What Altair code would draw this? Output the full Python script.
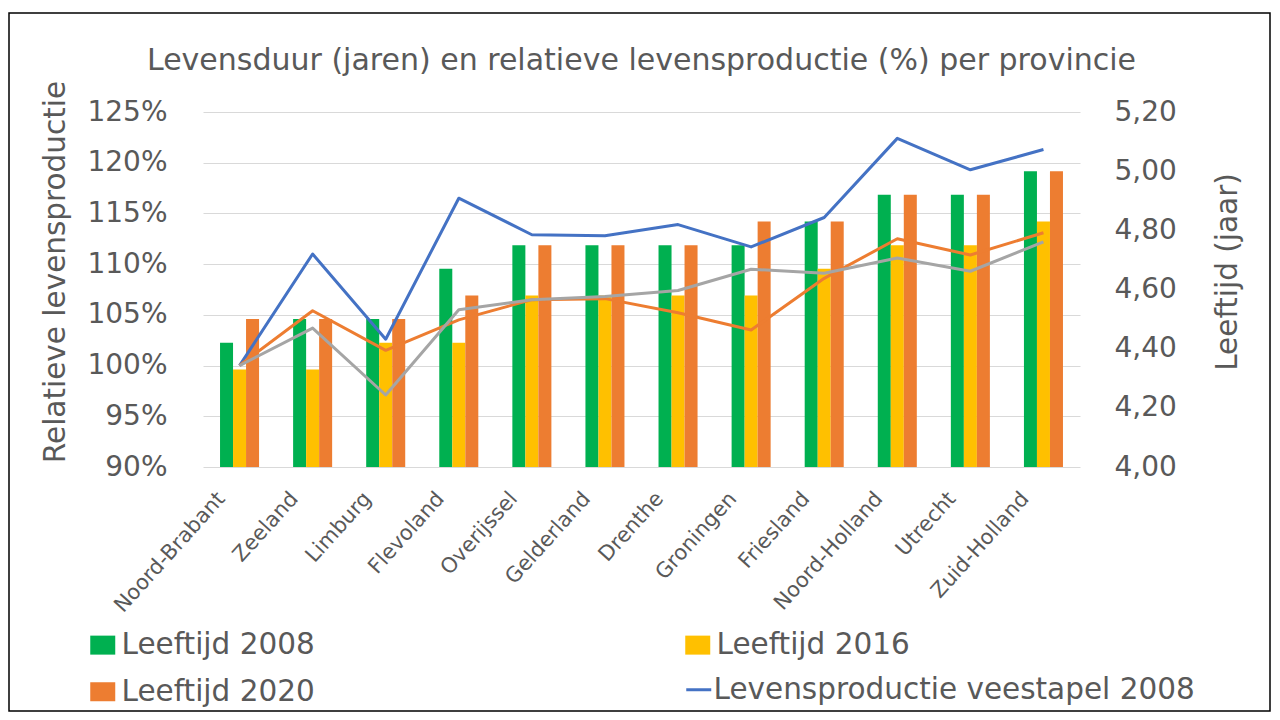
import altair as alt
import pandas as pd

provincies = ["Noord-Brabant", "Zeeland", "Limburg", "Flevoland", "Overijssel", "Gelderland",
              "Drenthe", "Groningen", "Friesland", "Noord-Holland", "Utrecht", "Zuid-Holland"]

leeftijd_series = ["Leeftijd 2008", "Leeftijd 2016", "Leeftijd 2020"]
leeftijd_2008 = [4.42, 4.50, 4.50, 4.67, 4.75, 4.75, 4.75, 4.75, 4.83, 4.92, 4.92, 5.00]
leeftijd_2016 = [4.33, 4.33, 4.42, 4.42, 4.58, 4.58, 4.58, 4.58, 4.67, 4.75, 4.75, 4.83]
leeftijd_2020 = [4.50, 4.50, 4.50, 4.58, 4.75, 4.75, 4.75, 4.83, 4.83, 4.92, 4.92, 5.00]

prod_series = ["Levensproductie veestapel 2008", "Levensproductie veestapel 2016",
               "Levensproductie veestapel 2020"]
prod_2008 = [100.0, 111.0, 102.6, 116.5, 112.9, 112.8, 113.9, 111.7, 114.6, 122.4, 119.3, 121.3]
prod_2016 = [100.0, 105.4, 101.5, 104.5, 106.5, 106.6, 105.2, 103.5, 108.6, 112.5, 110.9, 113.1]
prod_2020 = [100.0, 103.7, 97.1, 105.5, 106.5, 106.8, 107.4, 109.5, 109.1, 110.6, 109.3, 112.2]

bar_colors = ["#00B050", "#FFC000", "#ED7D31"]
line_colors = ["#4472C4", "#ED7D31", "#A5A5A5"]

rows = []
for s, vals in zip(leeftijd_series, [leeftijd_2008, leeftijd_2016, leeftijd_2020]):
    for p, v in zip(provincies, vals):
        rows.append({"provincie": p, "leeftijd_serie": s, "leeftijd": v})
bars_df = pd.DataFrame(rows)

rows = []
for s, vals in zip(prod_series, [prod_2008, prod_2016, prod_2020]):
    for p, v in zip(provincies, vals):
        rows.append({"provincie": p, "prod_serie": s, "prod": v})
lines_df = pd.DataFrame(rows)

FONT = "DejaVu Sans"
TXT = "#595959"
W, H = 877, 355
PAD_L, PAD_T = 195, 104
TITLE_Y = H / 2 - 18

xscale = alt.Scale(domain=provincies, paddingInner=0.466, paddingOuter=0.233)
xaxis = alt.Axis(title=None, labelAngle=-48, labelFontSize=21, labelFont=FONT, labelColor=TXT,
                 domain=False, ticks=False, labelPadding=28, labelOffset=-18,
                 grid=False, labelLimit=300)

bars = alt.Chart(bars_df).mark_bar(clip=True).encode(
    x=alt.X("provincie:N", scale=xscale, axis=xaxis, sort=provincies),
    xOffset=alt.XOffset("leeftijd_serie:N", scale=alt.Scale(domain=leeftijd_series)),
    y=alt.Y("leeftijd:Q",
            scale=alt.Scale(domain=[4.0, 5.2], zero=False, nice=False),
            axis=alt.Axis(orient="right", title="Leeftijd (jaar)",
                          values=[4.0, 4.2, 4.4, 4.6, 4.8, 5.0, 5.2],
                          labelExpr="replace(format(datum.value, '.2f'), '.', ',')",
                          grid=False, domain=False, ticks=False,
                          labelFont=FONT, labelFontSize=28, labelColor=TXT, labelPadding=34,
                          labelAlign="left",
                          titleFont=FONT, titleFontSize=29.5, titleColor=TXT, titleFontWeight="normal",
                          titleAngle=270, titleX=147, titleY=TITLE_Y, titleAlign="center",
                          titleBaseline="middle")),
    color=alt.Color("leeftijd_serie:N",
                    scale=alt.Scale(domain=leeftijd_series, range=bar_colors),
                    legend=alt.Legend(title=None, orient="none", legendX=-115, legendY=518,
                                      values=["Leeftijd 2008", "Leeftijd 2020", "Leeftijd 2016"],
                                      columns=2, columnPadding=368, rowPadding=16,
                                      symbolType="M-1,-0.76H1V0.76H-1Z", symbolSize=625,
                                      symbolStrokeWidth=0, labelOffset=4,
                                      labelFont=FONT, labelFontSize=29.5, labelColor=TXT,
                                      labelLimit=500, padding=0)),
)

lines = alt.Chart(lines_df).mark_line(strokeWidth=3, strokeJoin="round").encode(
    x=alt.X("provincie:N", scale=xscale, axis=xaxis, sort=provincies),
    y=alt.Y("prod:Q",
            scale=alt.Scale(domain=[90, 125], zero=False, nice=False),
            axis=alt.Axis(orient="left", title="Relatieve levensproductie",
                          values=[90, 95, 100, 105, 110, 115, 120, 125],
                          labelExpr="datum.value + '%'",
                          grid=True, gridColor="#D9D9D9", gridWidth=1.2,
                          domain=False, ticks=False,
                          labelFont=FONT, labelFontSize=28, labelColor=TXT, labelPadding=36,
                          titleFont=FONT, titleFontSize=29.5, titleColor=TXT, titleFontWeight="normal",
                          titleAngle=270, titleX=-148, titleY=TITLE_Y, titleAlign="center",
                          titleBaseline="middle")),
    stroke=alt.Stroke("prod_serie:N",
                      scale=alt.Scale(domain=prod_series, range=line_colors),
                      legend=alt.Legend(title=None, orient="none", legendX=481, legendY=563,
                                        values=["Levensproductie veestapel 2008"],
                                        symbolType="stroke", symbolSize=625, symbolStrokeWidth=3,
                                        labelOffset=0,
                                        labelFont=FONT, labelFontSize=29.5, labelColor=TXT,
                                        labelLimit=600, padding=0)),
    detail="prod_serie:N",
)

frame = alt.Chart(pd.DataFrame({"k": [0]})).mark_rect(
    filled=False, stroke="black", strokeWidth=1.5
).encode(
    x=alt.value(-194), x2=alt.value(1067), y=alt.value(-99), y2=alt.value(599)
)

chart = alt.layer(bars, lines, frame).resolve_scale(
    y="independent", color="independent", stroke="independent"
).properties(
    width=W, height=H,
    background="white",
    title=alt.TitleParams("Levensduur (jaren) en relatieve levensproductie (%) per provincie",
                          font=FONT, fontSize=30, color=TXT, fontWeight="normal",
                          anchor="middle", offset=0, baseline="alphabetic", dy=88),
    autosize=alt.AutoSizeParams(type="none"),
    padding={"left": PAD_L, "top": PAD_T, "right": 1264 - PAD_L - W, "bottom": 704 - PAD_T - H},
).configure_view(strokeWidth=0)

chart.save("out.html", embed_options={"renderer": "svg", "actions": False})
